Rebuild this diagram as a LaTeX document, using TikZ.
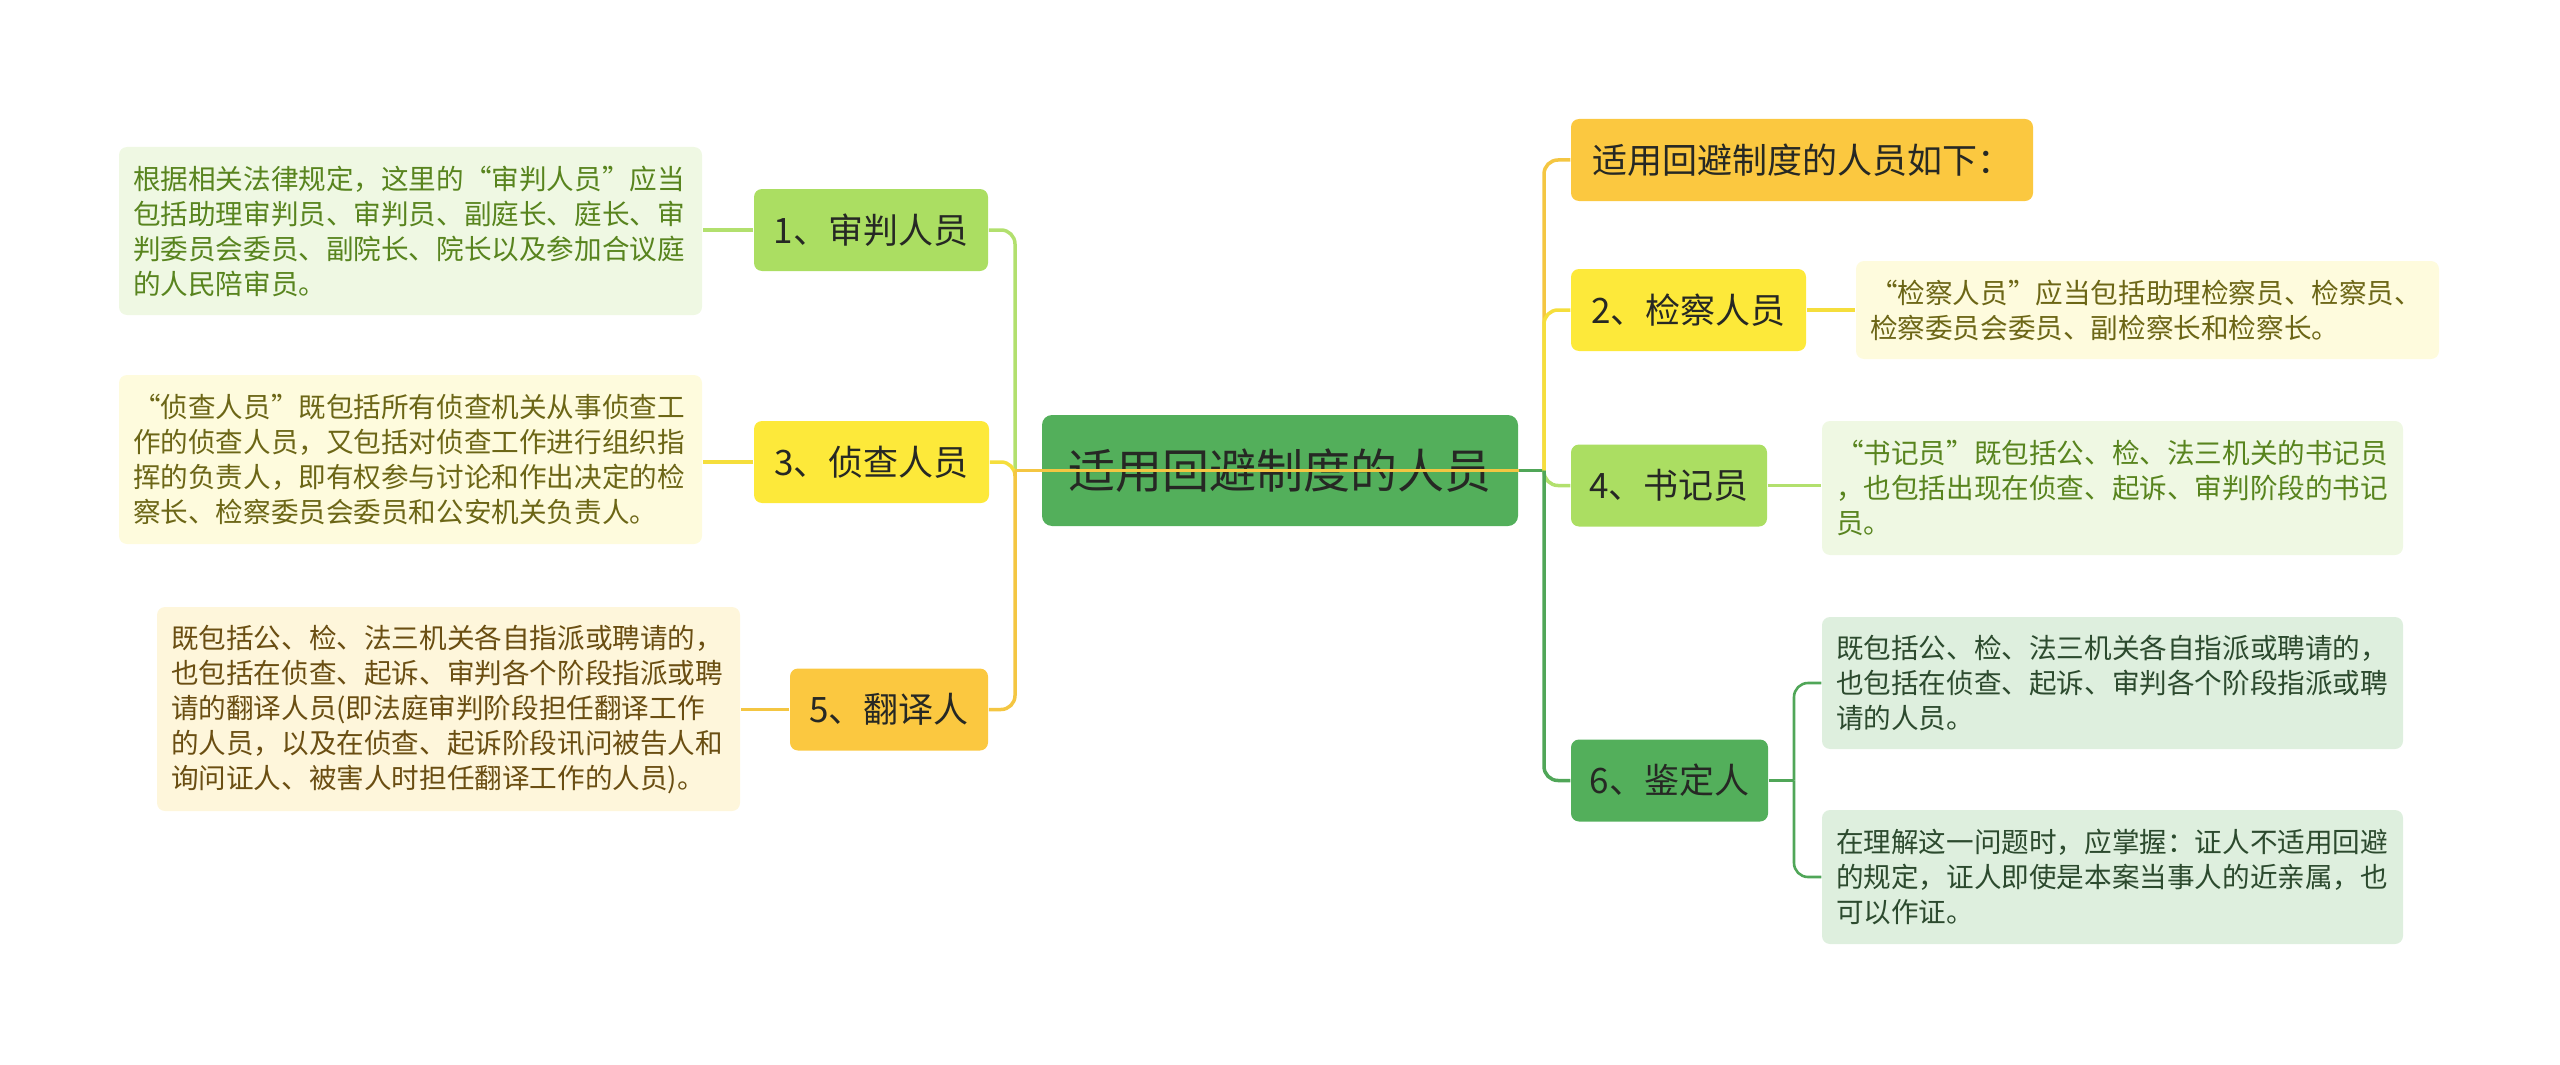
\documentclass[tikz,border=0pt]{standalone}
\usepackage{fontspec}
\setmainfont{Noto Sans CJK SC}

\definecolor{rootgreen}{RGB}{83,175,91}
\definecolor{linegreen}{RGB}{80,166,88}
\definecolor{leafgreen}{RGB}{171,222,98}
\definecolor{lineleaf}{RGB}{178,224,110}
\definecolor{sunyellow}{RGB}{253,233,58}
\definecolor{lineyellow}{RGB}{245,222,60}
\definecolor{amber}{RGB}{251,200,64}
\definecolor{lineamber}{RGB}{244,198,66}
\definecolor{paleleaf}{RGB}{239,248,227}
\definecolor{paleyellow}{RGB}{254,251,221}
\definecolor{palecream}{RGB}{254,246,219}
\definecolor{palegreen}{RGB}{222,239,222}
\definecolor{inkdark}{RGB}{38,40,36}
\definecolor{inkleaf}{RGB}{88,132,30}
\definecolor{inkolive}{RGB}{108,102,22}
\definecolor{inkbrown}{RGB}{106,78,18}
\definecolor{inkgreen}{RGB}{44,74,46}

\tikzset{every picture/.style={line width=0.75pt}}
\tikzset{
  rootbox/.style={rounded corners=5pt, inner sep=0pt, fill=rootgreen, text=inkdark,
    font=\fontsize{23.5pt}{28pt}\selectfont, minimum width=238pt, minimum height=55.5pt},
  topic/.style={rounded corners=4pt, inner sep=0pt, align=center, text=inkdark,
    font=\fontsize{17.5pt}{21pt}\selectfont, minimum height=41pt},
  note/.style={rounded corners=4pt, inner xsep=7pt, inner ysep=0pt, align=left,
    font=\fontsize{13.8pt}{17.5pt}\selectfont},
  link/.style={line width=1.75pt, rounded corners=7pt},
}

\begin{document}
\begin{tikzpicture}[x=0.5pt,y=0.5pt,yscale=-1,xscale=1]
\useasboundingbox (0,0) rectangle (2560,1065);

% Central Topic
\node[rootbox] (root) at (1280,470.5) {适用回避制度的人员};

% Right Topics
\node[topic, fill=amber, minimum width=231pt] (intro) at (1802,160) {适用回避制度的人员如下：};
\node[topic, fill=sunyellow, minimum width=117.5pt] (procu) at (1688.5,310) {2、检察人员};
\node[topic, fill=leafgreen, minimum width=98pt] (clerk) at (1669,485.5) {4、书记员};
\node[topic, fill=rootgreen, minimum width=98.5pt] (expert) at (1669.5,780.5) {6、鉴定人};

% Left Topics
\node[topic, fill=leafgreen, minimum width=117pt] (judge) at (871,230) {1、审判人员};
\node[topic, fill=sunyellow, minimum width=117.5pt] (invest) at (871.5,462) {3、侦查人员};
\node[topic, fill=amber, minimum width=99pt] (interp) at (889,709.5) {5、翻译人};

% Text Node
\node[note, fill=paleleaf, text=inkleaf, text width=277.5pt, minimum height=84pt] (judgenote) at (410.5,231) {根据相关法律规定，这里的“审判人员”应当\\包括助理审判员、审判员、副庭长、庭长、审\\判委员会委员、副院长、院长以及参加合议庭\\的人民陪审员。};
% Text Node
\node[note, fill=paleyellow, text=inkolive, text width=277.5pt, minimum height=84.5pt] (investnote) at (410.5,459.5) {“侦查人员”既包括所有侦查机关从事侦查工\\作的侦查人员，又包括对侦查工作进行组织指\\挥的负责人，即有权参与讨论和作出决定的检\\察长、检察委员会委员和公安机关负责人。};
% Text Node
\node[note, fill=palecream, text=inkbrown, text width=277.5pt, minimum height=102pt] (interpnote) at (448.5,709) {既包括公、检、法三机关各自指派或聘请的，\\也包括在侦查、起诉、审判各个阶段指派或聘\\请的翻译人员(即法庭审判阶段担任翻译工作\\的人员，以及在侦查、起诉阶段讯问被告人和\\询问证人、被害人时担任翻译工作的人员)。};
% Text Node
\node[note, fill=paleyellow, text=inkolive, text width=277.5pt, minimum height=49pt] (procunote) at (2147.5,310) {“检察人员”应当包括助理检察员、检察员、\\检察委员会委员、副检察长和检察长。};
% Text Node
\node[note, fill=paleleaf, text=inkleaf, text width=276.5pt, minimum height=67pt] (clerknote) at (2112.5,488) {“书记员”既包括公、检、法三机关的书记员\\，也包括出现在侦查、起诉、审判阶段的书记\\员。};
% Text Node
\node[note, fill=palegreen, text=inkgreen, text width=276.5pt, minimum height=66pt] (expertnote) at (2112.5,683) {既包括公、检、法三机关各自指派或聘请的，\\也包括在侦查、起诉、审判各个阶段指派或聘\\请的人员。};
% Text Node
\node[note, fill=palegreen, text=inkgreen, text width=276.5pt, minimum height=67pt] (witnessnote) at (2112.5,877) {在理解这一问题时，应掌握：证人不适用回避\\的规定，证人即使是本案当事人的近亲属，也\\可以作证。};

\coordinate (ltrunk) at (1015,470.5);
\coordinate (rtrunk) at (1544,470.5);
\coordinate (expertfork) at (1794,780.5);

%Straight Lines (right side)
\draw[link, linegreen] (root.east) -- (rtrunk);
\draw[link, lineamber] (rtrunk) |- (intro.west);
\draw[link, lineyellow] (rtrunk) |- (procu.west);
\draw[link, lineleaf] (rtrunk) |- (clerk.west);
\draw[link, linegreen] (rtrunk) |- (expert.west);
\draw[link, lineyellow] (procu.east) -- (procunote.west);
\draw[link, lineleaf] (clerk.east) -- (clerk.east -| clerknote.west);
\draw[link, linegreen, line width=1.3pt] (expert.east) -- (expertfork);
\draw[link, linegreen, line width=1.3pt] (expertfork) |- (expertnote.west);
\draw[link, linegreen, line width=1.3pt] (expertfork) |- (witnessnote.west);

%Straight Lines (left side)
\draw[link, lineleaf] (ltrunk) |- (judge.east);
\draw[link, lineyellow] (ltrunk) |- (invest.east);
\draw[link, lineamber] (ltrunk) |- (interp.east);
\draw[link, lineamber] (root.east) -- (ltrunk);
\draw[link, lineleaf] (judge.west) -- (judge.west -| judgenote.east);
\draw[link, lineyellow] (invest.west) -- (invest.west -| investnote.east);
\draw[link, lineamber] (interp.west) -- (interp.west -| interpnote.east);

\end{tikzpicture}
\end{document}
